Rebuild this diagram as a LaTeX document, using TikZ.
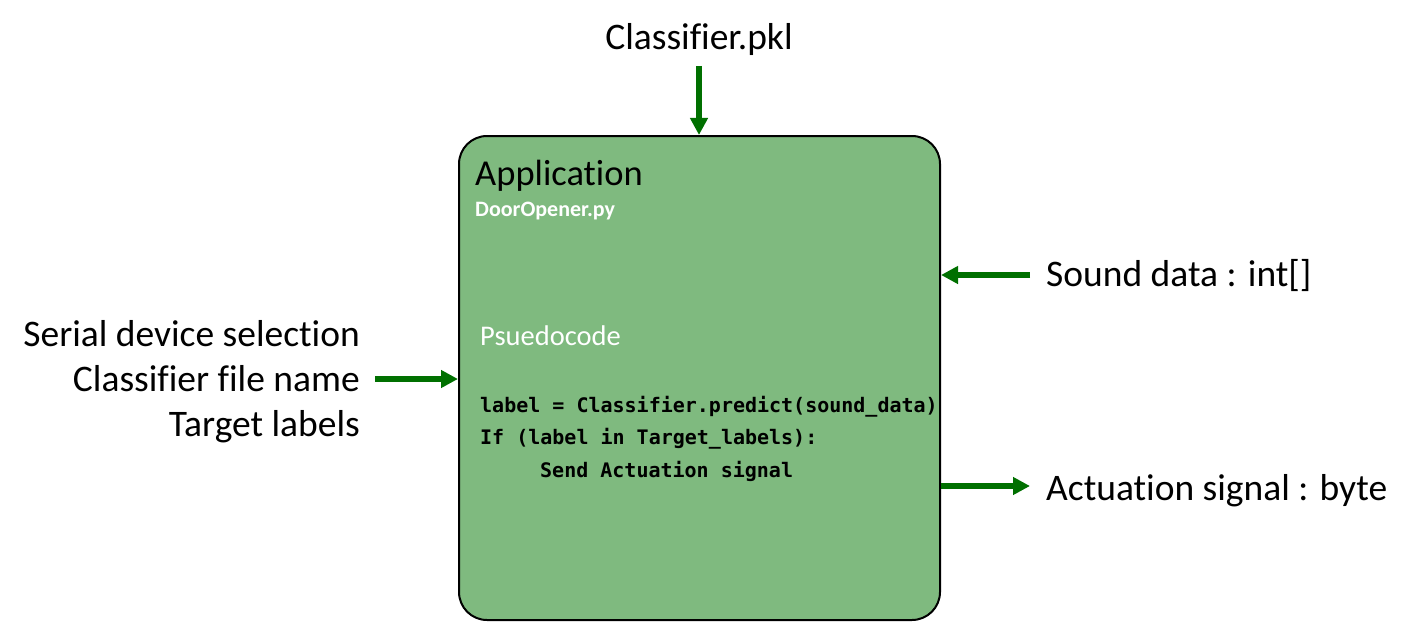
\documentclass[tikz,border=0pt]{standalone}
\usepackage{fontspec}
\setmainfont[Ligatures={NoCommon}]{Carlito}
\newfontfamily\codefont{DejaVu Sans Mono}
\usetikzlibrary{arrows.meta}
\definecolor{boxgreen}{RGB}{127,186,127}
\definecolor{arrowgreen}{RGB}{0,112,0}
\tikzset{
  appbox/.style={draw=black, line width=2pt, fill=boxgreen, rounded corners=28pt,
    minimum width=481pt, minimum height=484pt, inner sep=0pt},
  lbl/.style={inner sep=0pt, font=\fontsize{37.5}{42}\selectfont},
  flow/.style={draw=arrowgreen, line width=5.5pt, -{Triangle[length=17pt,width=17pt]}},
  codetxt/.style={inner sep=0pt, anchor=base west, font=\codefont\bfseries\fontsize{20}{24}\selectfont},
}
\begin{document}
\begin{tikzpicture}[x=1pt,y=-1pt]
\useasboundingbox (0,0) rectangle (1407,623);
\node[appbox] (box) at (699.5,378) {};
\node[inner sep=0pt, anchor=base west, font=\fontsize{36.5}{40}\selectfont] (app) at (475,185) {Application};
\node[inner sep=0pt, anchor=base west, text=white, font=\bfseries\fontsize{22}{24}\selectfont] (file) at (475,216) {DoorOpener.py};
\node[inner sep=0pt, anchor=base west, text=white, font=\fontsize{28.5}{30}\selectfont] (pseudo) at (480,345) {Psuedocode};
\node[codetxt] (c1) at (480,412) {label = Classifier.predict(sound\_data)};
\node[codetxt] (c2) at (480,444) {If (label in Target\_labels):};
\node[codetxt] (c3) at (540,477) {Send Actuation signal};

\node[lbl, anchor=base] (pkl) at (699,50) {Classifier.pkl};
\node[lbl, anchor=base east] (l1) at (360,346) {Serial device selection};
\node[lbl, anchor=base east] (l2) at (360,391) {Classifier file name};
\node[lbl, anchor=base east] (l3) at (360,436) {Target labels};
\node[lbl, anchor=base west] (snd) at (1046,286) {Sound data : int[]};
\node[lbl, anchor=base west] (act) at (1046,500) {Actuation signal : byte};

\coordinate (topsrc) at (699,66);
\coordinate (leftsrc) at (375,379);
\coordinate (sndsrc) at (1030,275);
\coordinate (actdst) at (1030,486);
\draw[flow] (topsrc) -- (topsrc |- box.north);
\draw[flow] (leftsrc) -- (leftsrc -| box.west);
\draw[flow] (sndsrc) -- (sndsrc -| box.east);
\draw[flow] (actdst -| box.east) -- (actdst);
\end{tikzpicture}
\end{document}
